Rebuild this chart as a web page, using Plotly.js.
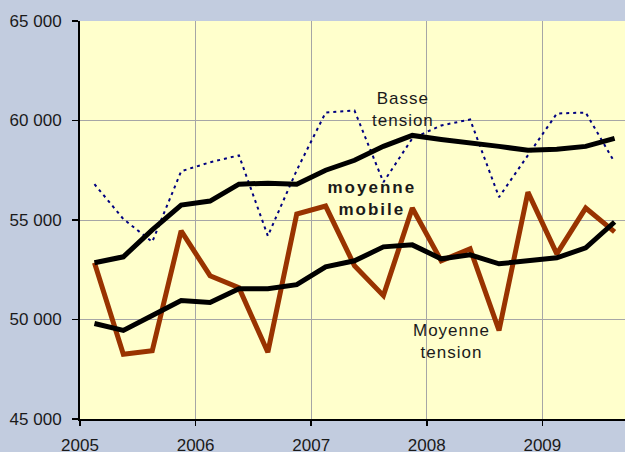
<!DOCTYPE html>
<html>
<head>
<meta charset="utf-8">
<script src="https://cdn.plot.ly/plotly-3.0.1.min.js"></script>
<style>
  html, body { margin: 0; padding: 0; background: #C2CCDF; }
  #chart { width: 625px; height: 452px; }
  .annotation-text { letter-spacing: 1px; }
  g.annotation[data-index="1"] .annotation-text { letter-spacing: 2px; }
</style>
</head>
<body>
<div id="chart"></div>
<script>
// Quarter mid-points (decimal years)
const periodes = [2005.125, 2005.375, 2005.625, 2005.875,
                  2006.125, 2006.375, 2006.625, 2006.875,
                  2007.125, 2007.375, 2007.625, 2007.875,
                  2008.125, 2008.375, 2008.625, 2008.875,
                  2009.125, 2009.375, 2009.625];

const basseTension = [56800, 55050, 53900, 57450, 57900, 58250, 54200, 57500,
                      60400, 60500, 56900, 59100, 59750, 60050, 56150, 58250,
                      60350, 60400, 57900];
const basseMobile  = [52850, 53150, 54500, 55750, 55950, 56800, 56850, 56800,
                      57500, 58000, 58700, 59250, 59050, 58900, 58700, 58500,
                      58550, 58700, 59100];
const moyenneTension = [52850, 48250, 48430, 54450, 52200, 51600, 48350, 55300,
                        55700, 52700, 51200, 55600, 52950, 53550, 49450, 56400,
                        53300, 55600, 54400];
const moyenneMobile  = [49800, 49450, 50200, 50950, 50850, 51550, 51550, 51750,
                        52650, 52950, 53650, 53750, 53050, 53250, 52800, 52950,
                        53100, 53600, 54900];

const annees = [2005, 2006, 2007, 2008, 2009];
const anneesTexte = ['2005', '2006', '2007', '2008', '2009'];
const yTicks = [45000, 50000, 55000, 60000, 65000];
const yTicksTexte = ['45 000', '50 000', '55 000', '60 000', '65 000'];

const traces = [
  { x: periodes, y: basseTension, type: 'scatter', mode: 'lines',
    line: { color: '#000080', width: 2, dash: '3px,4px' }, hoverinfo: 'skip' },
  { x: periodes, y: moyenneTension, type: 'scatter', mode: 'lines',
    line: { color: '#993300', width: 5 }, hoverinfo: 'skip' },
  { x: periodes, y: basseMobile, type: 'scatter', mode: 'lines',
    line: { color: '#000000', width: 5 }, hoverinfo: 'skip' },
  { x: periodes, y: moyenneMobile, type: 'scatter', mode: 'lines',
    line: { color: '#000000', width: 5 }, hoverinfo: 'skip' }
];

const fontFam = 'Liberation Sans, Arial, sans-serif';

const layout = {
  width: 625, height: 452,
  margin: { l: 80, r: 0, t: 21, b: 33, pad: 0 },
  paper_bgcolor: '#C2CCDF',
  plot_bgcolor: '#FFFFCC',
  showlegend: false,
  font: { family: fontFam, size: 17, color: '#1a1a1a' },
  xaxis: {
    range: [2005, 2009.715],
    tickvals: annees, ticktext: anneesTexte,
    showgrid: true, gridcolor: '#A6A6A6', gridwidth: 1,
    showline: true, linecolor: '#000000', linewidth: 2,
    ticks: 'outside', ticklen: 5, tickwidth: 1.5, tickcolor: '#000000',
    ticklabelstandoff: 5,
    zeroline: false, fixedrange: true,
    tickfont: { family: fontFam, size: 17, color: '#1a1a1a' }
  },
  yaxis: {
    range: [45000, 65000],
    tickvals: yTicks, ticktext: yTicksTexte,
    showgrid: true, gridcolor: '#A6A6A6', gridwidth: 1,
    showline: true, linecolor: '#000000', linewidth: 2,
    ticks: 'outside', ticklen: 6, tickwidth: 1.5, tickcolor: '#000000',
    ticklabelstandoff: 7,
    zeroline: false, fixedrange: true,
    tickfont: { family: fontFam, size: 17, color: '#1a1a1a' }
  },
  annotations: [
    { text: 'Basse<br>tension', x: 2007.794, y: 60528, xref: 'x', yref: 'y',
      showarrow: false, xanchor: 'center', yanchor: 'middle',
      font: { family: fontFam, size: 17, color: '#1a1a1a' } },
    { text: '<b>moyenne<br>mobile</b>', x: 2007.526, y: 56056, xref: 'x', yref: 'y',
      showarrow: false, xanchor: 'center', yanchor: 'middle',
      font: { family: fontFam, size: 17, color: '#1a1a1a' } },
    { text: 'Moyenne<br>tension', x: 2008.218, y: 48870, xref: 'x', yref: 'y',
      showarrow: false, xanchor: 'center', yanchor: 'middle',
      font: { family: fontFam, size: 17, color: '#1a1a1a' } }
  ]
};

Plotly.newPlot('chart', traces, layout, { staticPlot: true, displayModeBar: false });
</script>
</body>
</html>
